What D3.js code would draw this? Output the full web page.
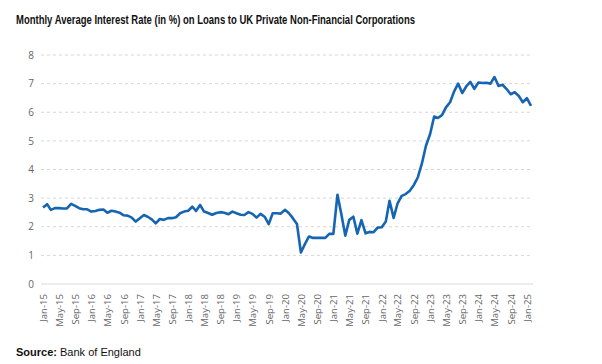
<!DOCTYPE html>
<html>
<head>
<meta charset="utf-8">
<script src="https://cdn.jsdelivr.net/npm/d3@7"></script>
<style>
  body { margin: 0; background: #fff; }
  svg { font-family: "Liberation Sans", Arial, sans-serif; }
</style>
</head>
<body>
<svg class="chart"></svg>
<script>
// monthly rates, Jan-15 .. Feb-25
var startMonth = new Date(2015, 0, 1);
var rates = [
    2.67, 2.79, 2.59, 2.65, 2.65, 2.64, 2.64, 2.80, 2.73, 2.65, 2.61, 2.61,
    2.53, 2.55, 2.59, 2.60, 2.49, 2.56, 2.53, 2.49, 2.40, 2.39, 2.32, 2.18,
    2.30, 2.41, 2.35, 2.26, 2.12, 2.27, 2.24, 2.30, 2.30, 2.33, 2.47, 2.53,
    2.56, 2.70, 2.55, 2.76, 2.53, 2.48, 2.42, 2.48, 2.51, 2.49, 2.44, 2.53,
    2.47, 2.42, 2.41, 2.51, 2.45, 2.32, 2.45, 2.35, 2.09, 2.47, 2.47, 2.46,
    2.59, 2.47, 2.30, 2.10, 1.10, 1.40, 1.66, 1.61, 1.61, 1.61, 1.61, 1.75,
    1.75, 3.12, 2.47, 1.69, 2.24, 2.35, 1.76, 2.23, 1.77, 1.82, 1.81, 1.97,
    1.98, 2.18, 2.91, 2.31, 2.82, 3.08, 3.14, 3.26, 3.46, 3.73, 4.22, 4.83,
    5.23, 5.85, 5.80, 5.90, 6.17, 6.35, 6.72, 7.00, 6.67, 6.90, 7.06, 6.82,
    7.04, 7.02, 7.03, 7.00, 7.23, 6.92, 6.96, 6.81, 6.63, 6.70, 6.57, 6.35,
    6.49, 6.22
];
var yTicks = [0, 1, 2, 3, 4, 5, 6, 7, 8];
var titleText = "Monthly Average Interest Rate (in %) on Loans to UK Private Non-Financial Corporations";

var width = 602, height = 364;
var margin = { top: 55, right: 70, bottom: 80, left: 41 };

var data = rates.map(function (v, i) {
    return { date: d3.timeMonth.offset(startMonth, i), value: v };
});

var svg = d3.select(".chart")
    .attr("width", width)
    .attr("height", height);

var x = d3.scaleTime()
    .domain(d3.extent(data, d => d.date))
    .range([43, 531]);

var y = d3.scaleLinear()
    .domain([0, 8])
    .range([284, 55]);

// title (source font is a condensed grotesque, so squeeze it to width)
svg.append("text")
    .attr("x", 16)
    .attr("y", 24)
    .attr("font-size", 12)
    .attr("font-weight", "bold")
    .attr("fill", "#111")
    .attr("textLength", 399)
    .attr("lengthAdjust", "spacingAndGlyphs")
    .text(titleText);

// gridlines
svg.append("g")
    .selectAll("line")
    .data(yTicks.filter(d => d > 0))
    .enter().append("line")
    .attr("x1", margin.left)
    .attr("x2", 533)
    .attr("y1", d => y(d))
    .attr("y2", d => y(d))
    .attr("stroke", "#d6d6d6")
    .attr("stroke-width", 1)
    .attr("stroke-dasharray", "3,3");

// baseline
svg.append("line")
    .attr("x1", margin.left)
    .attr("x2", 533)
    .attr("y1", y(0))
    .attr("y2", y(0))
    .attr("stroke", "#d9d9d9");

// y axis
var yAxis = d3.axisLeft(y).tickValues(yTicks).tickSize(0).tickPadding(0);
var gy = svg.append("g")
    .attr("transform", "translate(34,0)")
    .call(yAxis);
gy.select(".domain").remove();
gy.selectAll("text")
    .attr("fill", "#666")
    .attr("font-size", 10)
    .attr("font-family", "'Open Sans', sans-serif");

// x axis, every 4 months
var xTicks = d3.timeMonth.every(4).range(startMonth, new Date(2025, 1, 1));
var xAxis = d3.axisBottom(x)
    .tickValues(xTicks)
    .tickFormat(d3.timeFormat("%b-%y"))
    .tickSize(0);
var gx = svg.append("g")
    .attr("transform", "translate(0," + y(0) + ")")
    .call(xAxis);
gx.select(".domain").remove();
gx.selectAll("text")
    .attr("fill", "#666")
    .attr("font-size", 9.6)
    .attr("font-family", "'Open Sans', sans-serif")
    .attr("text-anchor", "end")
    .attr("transform", "rotate(-90)")
    .attr("x", -10)
    .attr("y", 0)
    .attr("dy", "0.35em");

// the line
var line = d3.line()
    .x(d => x(d.date))
    .y(d => y(d.value));

svg.append("path")
    .datum(data)
    .attr("fill", "none")
    .attr("stroke", "#1565b3")
    .attr("stroke-width", 2.6)
    .attr("stroke-linejoin", "round")
    .attr("d", line);

// source
var src = svg.append("text")
    .attr("x", 16)
    .attr("y", 356)
    .attr("font-size", 11)
    .attr("fill", "#111");
src.append("tspan").attr("font-weight", "bold").text("Source:");
src.append("tspan").text(" Bank of England");
</script>
</body>
</html>
